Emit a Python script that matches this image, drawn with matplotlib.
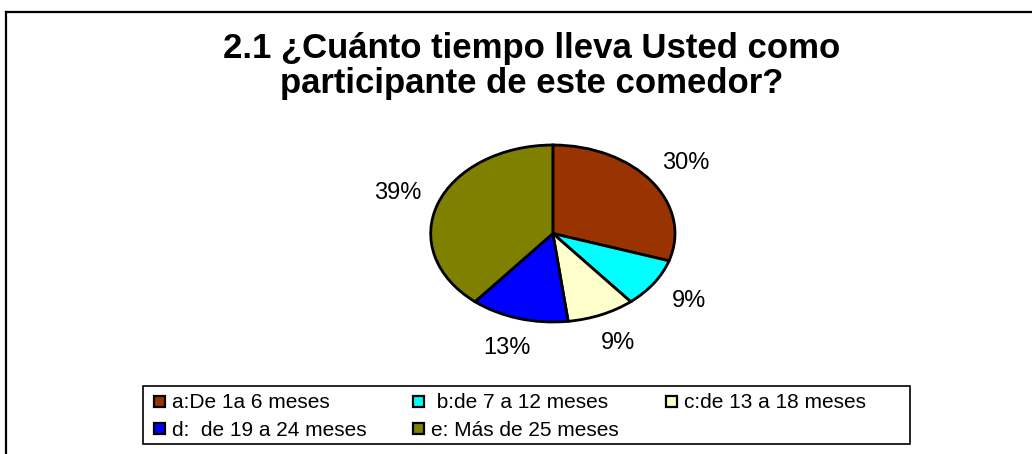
import matplotlib
matplotlib.use("Agg")
import matplotlib.pyplot as plt
from matplotlib.patches import Rectangle
from matplotlib.lines import Line2D

plt.rcParams['font.family'] = ['Liberation Sans', 'DejaVu Sans']

# survey answers, share of participants per time band
labels = ["a:De 1a 6 meses", " b:de 7 a 12 meses", "c:de 13 a 18 meses",
          "d:  de 19 a 24 meses", "e: Más de 25 meses"]
values = [30, 9, 9, 13, 39]
colors = ["#993300", "#00FFFF", "#FFFFCC", "#0000FF", "#808000"]

W, H = 1032, 454
fig = plt.figure(figsize=(W / 100, H / 100), dpi=100)


def fx(px):
    return px / W


def fy(py):
    return 1 - py / H


# outer frame (only top and left edges show)
fig.add_artist(Line2D([fx(6), fx(6)], [0, fy(12)], color="black", lw=1.6,
                      transform=fig.transFigure))
fig.add_artist(Line2D([fx(6), 1], [fy(12), fy(12)], color="black", lw=1.6,
                      transform=fig.transFigure))

fig.text(fx(532), fy(66),
         "2.1 ¿Cuánto tiempo lleva Usted como\nparticipante de este comedor?",
         ha="center", va="center", fontsize=25, fontweight="bold", linespacing=1.05)

# pie stretched into an ellipse
ax = fig.add_axes([fx(430.7), fy(322), 244.3 / W, 177 / H])
wedges, texts, autotexts = ax.pie(
    values, colors=colors, startangle=90, counterclock=False,
    autopct="%1.0f%%", pctdistance=1.35,
    wedgeprops=dict(edgecolor="black", linewidth=2),
    textprops=dict(fontsize=17))
ax.set_aspect("auto")
ax.set_xlim(-1, 1)
ax.set_ylim(-1, 1)
ax.axis("off")

# legend box, three entries per row
fig.add_artist(Rectangle((fx(143), fy(444)), fx(910) - fx(143), fy(386) - fy(444),
                         transform=fig.transFigure, facecolor="white",
                         edgecolor="black", lw=1.2))
col_x = [154, 413, 666]
row_y = [401, 428]
for i, (lab, col) in enumerate(zip(labels, colors)):
    x0 = col_x[i % 3]
    y0 = row_y[i // 3]
    fig.add_artist(Rectangle((fx(x0), fy(y0 + 5.5)), 11 / W, 11 / H,
                             transform=fig.transFigure, facecolor=col,
                             edgecolor="black", lw=1.6))
    fig.text(fx(x0 + 18), fy(y0), lab, ha="left", va="center_baseline", fontsize=15)

fig.savefig("out.png", dpi=100)
